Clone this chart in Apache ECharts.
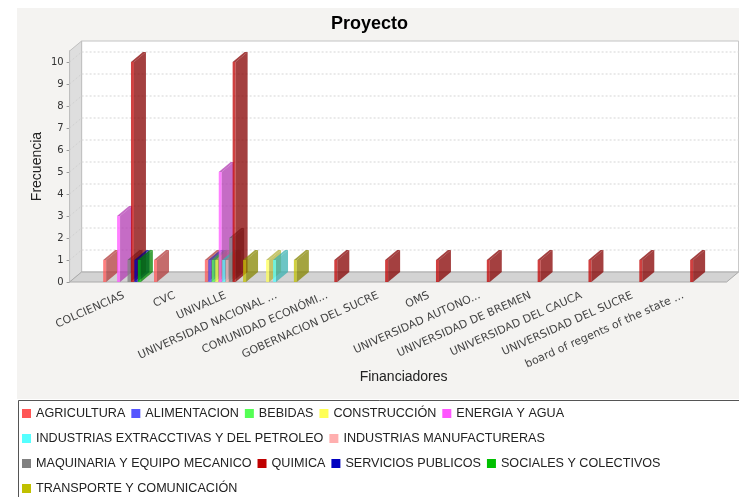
<!DOCTYPE html>
<html>
<head>
<meta charset="utf-8">
<title>Proyecto</title>
<script src="https://cdn.jsdelivr.net/npm/echarts@6/dist/echarts.min.js"></script>
<style>
  html, body { margin: 0; padding: 0; background: #fff; }
  #chart { width: 739px; height: 497px; }
</style>
</head>
<body>
<div id="chart"></div>
<script>
// categorias del eje X
var financiadores = ['COLCIENCIAS', 'CVC', 'UNIVALLE', 'UNIVERSIDAD NACIONAL ...', 'COMUNIDAD ECONÓMI...',
  'GOBERNACION DEL SUCRE', 'OMS', 'UNIVERSIDAD AUTONO...', 'UNIVERSIDAD DE BREMEN',
  'UNIVERSIDAD DEL CAUCA', 'UNIVERSIDAD DEL SUCRE', 'board of regents of the state ...'];

var sectores = ['AGRICULTURA', 'ALIMENTACION', 'BEBIDAS', 'CONSTRUCCIÓN', 'ENERGIA Y AGUA',
  'INDUSTRIAS EXTRACCTIVAS Y DEL PETROLEO', 'INDUSTRIAS MANUFACTURERAS',
  'MAQUINARIA Y EQUIPO MECANICO', 'QUIMICA', 'SERVICIOS PUBLICOS', 'SOCIALES Y COLECTIVOS',
  'TRANSPORTE Y COMUNICACIÓN'];

// colores por defecto de jfreechart
var colores = ['#ff5555', '#5555ff', '#55ff55', '#ffff55', '#ff55ff', '#55ffff',
  '#ffafaf', '#808080', '#c00000', '#0000c0', '#00c000', '#c0c000'];

// frecuencia de cada sector por financiador
var agricultura   = [1, 1, 1, 0, 0, 0, 0, 0, 0, 0, 0, 0];
var alimentacion  = [0, 0, 1, 0, 0, 0, 0, 0, 0, 0, 0, 0];
var bebidas       = [0, 0, 1, 0, 0, 0, 0, 0, 0, 0, 0, 0];
var construccion  = [0, 0, 1, 1, 0, 0, 0, 0, 0, 0, 0, 0];
var energia       = [3, 0, 5, 0, 0, 0, 0, 0, 0, 0, 0, 0];
var extractivas   = [0, 0, 1, 1, 0, 0, 0, 0, 0, 0, 0, 0];
var manufactura   = [0, 0, 1, 0, 0, 0, 0, 0, 0, 0, 0, 0];
var maquinaria    = [1, 0, 2, 0, 0, 0, 0, 0, 0, 0, 0, 0];
var quimica       = [10, 0, 10, 0, 1, 1, 1, 1, 1, 1, 1, 1];
var servicios     = [1, 0, 0, 0, 0, 0, 0, 0, 0, 0, 0, 0];
var sociales      = [1, 0, 0, 0, 0, 0, 0, 0, 0, 0, 0, 0];
var transporte    = [0, 0, 1, 1, 0, 0, 0, 0, 0, 0, 0, 0];

var frecuencias = [agricultura, alimentacion, bebidas, construccion, energia, extractivas,
  manufactura, maquinaria, quimica, servicios, sociales, transporte];

var ticksY = [0, 1, 2, 3, 4, 5, 6, 7, 8, 9, 10];

// efecto 3D
var DX = 12, DY = 10, ALPHA = 0.75, OFFSET_Y = 29;

function oscurecer(hex) {
  var c = echarts.color.parse(hex);
  return 'rgba(' + Math.floor(c[0] * 0.7) + ',' + Math.floor(c[1] * 0.7) + ',' + Math.floor(c[2] * 0.7) + ',' + ALPHA + ')';
}
function transparente(hex) {
  return echarts.color.modifyAlpha(hex, ALPHA);
}

// paredes y piso del grafico
function renderParedes(params, api) {
  var cs = params.coordSys;
  var fl = cs.x - OFFSET_Y, fr = cs.x + cs.width + 18;
  var y0 = api.coord([0, 0])[1];
  var yTop = api.coord([0, 10.5])[1];
  var children = [
    { type: 'rect', shape: { x: fl + DX, y: yTop - DY, width: fr - fl, height: y0 - yTop },
      style: { fill: '#fff', stroke: '#c4c4c4', lineWidth: 1 } },
    { type: 'polygon', shape: { points: [[fl, yTop], [fl + DX, yTop - DY], [fl + DX, y0 - DY], [fl, y0]] },
      style: { fill: '#dedede', stroke: '#c0c0c0', lineWidth: 1 } },
    { type: 'polygon', shape: { points: [[fl, y0], [fl + DX, y0 - DY], [fr + DX, y0 - DY], [fr, y0]] },
      style: { fill: '#d3d3d3', stroke: '#aaaaaa', lineWidth: 1 } }
  ];
  ticksY.forEach(function (t) {
    if (t === 0) return;
    var y = api.coord([0, t])[1];
    children.push({ type: 'line', shape: { x1: fl + DX, y1: y - DY, x2: fr + DX, y2: y - DY },
      style: { stroke: '#d6d6d6', lineWidth: 1, lineDash: [2, 2] } });
    children.push({ type: 'line', shape: { x1: fl, y1: y, x2: fl + DX, y2: y - DY },
      style: { stroke: '#d0d0d0', lineWidth: 1, lineDash: [2, 2] } });
  });
  return { type: 'group', children: children };
}

function hacerBarra(s) {
  return function (params, api) {
    var cat = api.value(0), v = api.value(1);
    if (!v) return;
    var base = api.coord([cat, 0]);
    var top = api.coord([cat, v]);
    var banda = api.size([1, 0])[0];
    var grupo = banda * 0.82;
    var slot = grupo / sectores.length;
    var x0 = base[0] - grupo / 2 + s * slot;
    var x1 = x0 + slot * 0.86;
    var y0 = base[1], y1 = top[1];
    var frente = transparente(colores[s]);
    var lado = oscurecer(colores[s]);
    return {
      type: 'group',
      children: [
        { type: 'rect', shape: { x: x0, y: y1, width: x1 - x0, height: y0 - y1 }, style: { fill: frente } },
        { type: 'polygon', shape: { points: [[x0, y1], [x0 + DX, y1 - DY], [x1 + DX, y1 - DY], [x1, y1]] }, style: { fill: lado } },
        { type: 'polygon', shape: { points: [[x1, y1], [x1 + DX, y1 - DY], [x1 + DX, y0 - DY], [x1, y0]] }, style: { fill: lado } }
      ]
    };
  };
}

var series = [{
  name: 'paredes',
  type: 'custom',
  silent: true,
  z: 1,
  renderItem: renderParedes,
  data: [[0, 0]]
}];
sectores.forEach(function (nombre, s) {
  series.push({
    name: nombre,
    type: 'custom',
    z: 2,
    itemStyle: { color: colores[s] },
    renderItem: hacerBarra(s),
    data: frecuencias[s].map(function (v, i) { return [i, v]; })
  });
});

var chart = echarts.init(document.getElementById('chart'));
chart.setOption({
  animation: false,
  backgroundColor: '#fff',
  graphic: [{
    type: 'rect', z: -10, silent: true,
    shape: { x: 17, y: 8, width: 730, height: 391 },
    style: { fill: '#f4f3f1' }
  }, {
    type: 'rect', z: -10, silent: true,
    shape: { x: 18.5, y: 400.5, width: 740, height: 120 },
    style: { fill: '#fff', stroke: '#555', lineWidth: 1 }
  }],
  title: {
    text: 'Proyecto',
    left: 'center',
    top: 10,
    textStyle: { fontFamily: 'Liberation Sans', fontSize: 18, fontWeight: 'bold', color: '#000' }
  },
  legend: {
    data: sectores,
    left: 18,
    top: 400,
    width: 712,
    padding: [4, 4, 4, 4],
    icon: 'rect',
    itemWidth: 9,
    itemHeight: 9,
    itemGap: 6,
    selectedMode: false,
    textStyle: { fontFamily: 'Liberation Sans', fontSize: 12.6, color: '#222', lineHeight: 19 }
  },
  grid: { left: 98.6, right: 30.4, top: 51, bottom: 215 },
  xAxis: {
    type: 'category',
    data: financiadores,
    name: 'Financiadores',
    nameLocation: 'middle',
    nameGap: 88,
    nameMoveOverlap: false,
    nameTextStyle: { fontFamily: 'Liberation Sans', fontSize: 14, color: '#222' },
    axisLine: { show: false },
    axisTick: { show: false },
    axisLabel: {
      rotate: 24, margin: 13, interval: 0,
      fontFamily: 'DejaVu Sans', fontSize: 11, color: '#444'
    }
  },
  yAxis: {
    type: 'value',
    min: 0,
    max: 10.5,
    interval: 1,
    offset: OFFSET_Y,
    name: 'Frecuencia',
    nameLocation: 'middle',
    nameGap: 25,
    nameMoveOverlap: false,
    nameTextStyle: { fontFamily: 'Liberation Sans', fontSize: 14, color: '#222' },
    axisLine: { show: true, lineStyle: { color: '#999' } },
    axisTick: { show: true, length: 3, lineStyle: { color: '#999' }, customValues: ticksY },
    axisLabel: {
      margin: 6, fontFamily: 'DejaVu Sans', fontSize: 10, color: '#333',
      customValues: ticksY,
      formatter: function (v) { return v % 1 === 0 ? String(v) : ''; }
    },
    splitLine: { show: false }
  },
  series: series
});
</script>
</body>
</html>
